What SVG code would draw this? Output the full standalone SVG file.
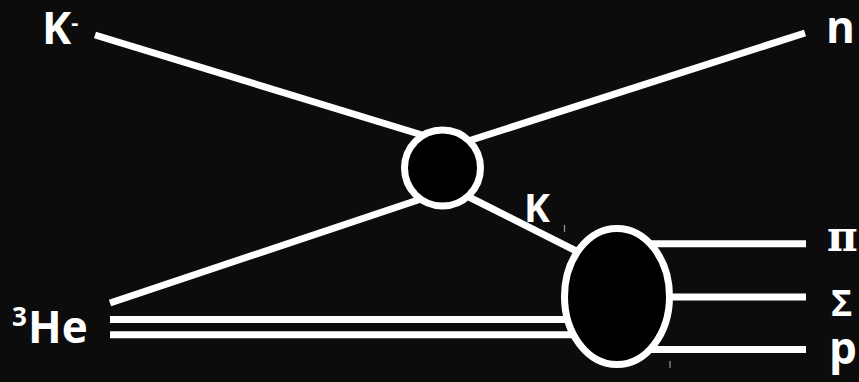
<svg xmlns="http://www.w3.org/2000/svg" width="859" height="382" viewBox="0 0 859 382">
  <style>
    .ln { stroke: #ffffff; stroke-width: 7; fill: none; }
    .nd { stroke: #ffffff; stroke-width: 7; fill: #000000; }
    .lb { fill: #ffffff; font-family: "Open Sans", "Noto Sans", sans-serif; font-weight: bold; }
    .gr { fill: #ffffff; font-family: "DejaVu Serif", serif; font-weight: bold; }
    .tk { stroke: #9a9a9a; stroke-width: 1.2; }
  </style>
  <rect x="0" y="0" width="859" height="382" fill="#0c0c0c"/>
  <g id="connectors">
    <line class="ln" x1="95" y1="35" x2="432" y2="138"/>
    <line class="ln" x1="805" y1="33" x2="440" y2="150"/>
    <line class="ln" x1="110" y1="303" x2="430" y2="196"/>
    <line class="ln" x1="455" y1="190" x2="590" y2="258"/>
    <line class="ln" x1="110" y1="319.5" x2="600" y2="319.5"/>
    <line class="ln" x1="110" y1="334.7" x2="600" y2="334.7"/>
    <line class="ln" x1="640" y1="243.7" x2="806" y2="243.7"/>
    <line class="ln" x1="640" y1="297" x2="806" y2="297"/>
    <line class="ln" x1="640" y1="349.5" x2="806" y2="349.5"/>
    <line class="tk" x1="564.5" y1="225" x2="564.5" y2="232"/>
    <line class="tk" x1="670" y1="361" x2="670" y2="368"/>
  </g>
  <g id="vertex1">
    <circle class="nd" cx="442.5" cy="168" r="38"/>
  </g>
  <g id="vertex2">
    <ellipse class="nd" cx="617" cy="296.5" rx="52.5" ry="68"/>
  </g>
  <g id="label-Kminus">
    <text class="lb" x="42" y="44" font-size="44">K<tspan font-size="22" dy="-14">-</tspan></text>
  </g>
  <g id="label-n">
    <text class="lb" x="826" y="43" font-size="44">n</text>
  </g>
  <g id="label-He3">
    <text class="lb" x="12" y="326" font-size="26">3</text>
    <text class="lb" x="28" y="343" font-size="44">He</text>
  </g>
  <g id="label-K">
    <text class="lb" x="524" y="222" font-size="39">K</text>
  </g>
  <g id="label-pi">
    <text class="gr" x="827" y="251" font-size="42">π</text>
  </g>
  <g id="label-Sigma">
    <text class="lb" x="831" y="316" font-size="36">Σ</text>
  </g>
  <g id="label-p">
    <text class="lb" x="829" y="364" font-size="44">p</text>
  </g>
</svg>
